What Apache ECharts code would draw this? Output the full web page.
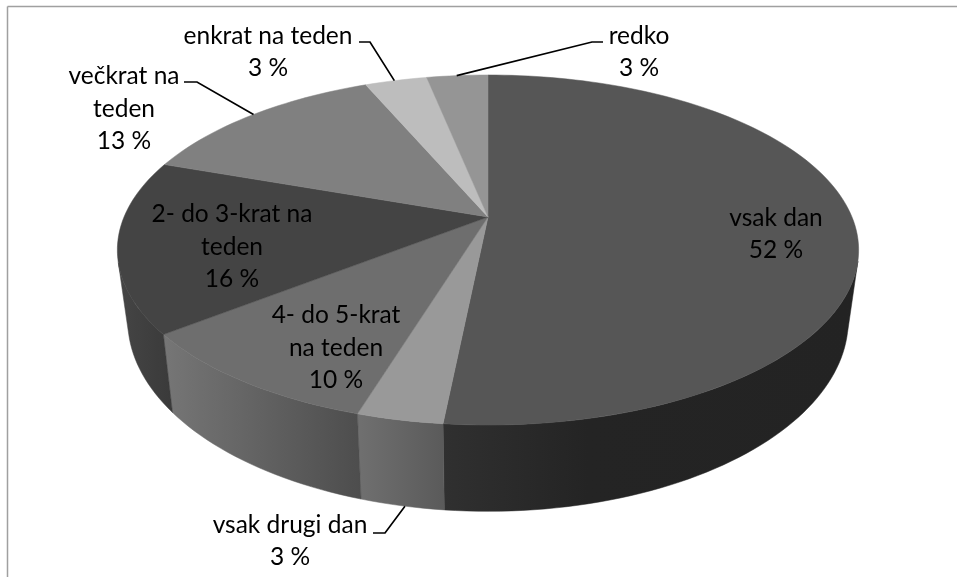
<!DOCTYPE html>
<html>
<head>
<meta charset="utf-8">
<style>html,body{margin:0;padding:0;background:#fff}#chart{width:957px;height:577px}</style>
<script src="https://cdn.jsdelivr.net/npm/echarts@6/dist/echarts.min.js"></script>
</head>
<body>
<div id="chart"></div>
<script>
// ---- data (clockwise from 12 o'clock) ----
const categories = ['vsak dan', 'vsak drugi dan', '4- do 5-krat\nna teden', '2- do 3-krat na\nteden', 'večkrat na\nteden', 'enkrat na teden', 'redko'];
const shares = [51.6, 3.15, 9.7, 15.9, 13.2, 3.25, 3.2];
const percentLabels = ['52 %', '3 %', '10 %', '16 %', '13 %', '3 %', '3 %'];

// ---- styles and layout ----
const topColors = ['#565656', '#999999', '#6e6e6e', '#444444', '#808080', '#bdbdbd', '#959595'];
const wallStops = [
  [[0, '#303030'], [0.35, '#242424'], [1, '#232323']],
  [[0, '#707070'], [1, '#5a5a5a']],
  [[0, '#767676'], [1, '#4d4d4d']],
  [[0, '#454545'], [1, '#3a3a3a']],
  [[0, '#555555'], [1, '#555555']],
  [[0, '#777777'], [1, '#777777']],
  [[0, '#666666'], [1, '#666666']]
];
const labelCenters = [[776, 234], [290, 541], [336, 348], [232, 247], [124, 109], [268, 52], [639, 52]];
// leader: elbow points from the label towards the slice; the far end is computed from the slice
const leaders = [null, [[373, 533], [385, 533]], null, null, [[184, 82], [197, 82]], [[359, 42], [370, 42]], [[603, 42], [592, 42]]];
const leaderAngleShift = [0, -0.4, 0, 0, 0.3, -0.3, -0.1];

// pie projection (perspective view of a circle)
const CX = 488, CY = 217, A = 364, B = 168.8, C = -0.1886;
function topPt(deg) {
  const r = deg * Math.PI / 180, u = Math.sin(r), v = -Math.cos(r), w = 1 + C * v;
  return [CX + A * u / w, CY + B * v / w];
}
function basePt(deg) {
  const p = topPt(deg);
  return [CX + (p[0] - CX) * 0.972, p[1] + 78 + 0.092 * (p[1] - 335)];
}
function arc(fn, a, b) {
  const n = Math.max(2, Math.ceil(Math.abs(b - a) / 1.5)), pts = [];
  for (let i = 0; i <= n; i++) pts.push(fn(a + (b - a) * i / n));
  return pts;
}
// the angle where the wall's vertical edge is tangent to the rim: the visible wall ends there
function silhouetteAngle(from, to) {
  const cross = d => {
    const p = topPt(d), q = topPt(d + 0.5), b = basePt(d);
    return (q[0] - p[0]) * (b[1] - p[1]) - (q[1] - p[1]) * (b[0] - p[0]);
  };
  let lo = from, hi = to;
  const s = Math.sign(cross(lo));
  for (let k = 0; k < 30; k++) {
    const m = (lo + hi) / 2;
    if (Math.sign(cross(m)) === s) lo = m; else hi = m;
  }
  return lo;
}
const wallFrom = silhouetteAngle(60, 130), wallTo = silhouetteAngle(230, 300);

const total = shares.reduce((s, v) => s + v, 0);

function renderItem(params, api) {
  const i = params.dataIndex;
  let before = 0;
  for (let k = 0; k < i; k++) before += shares[k];
  const a0 = before / total * 360, a1 = a0 + api.value(0) / total * 360;
  const children = [];

  // side wall
  const wa = Math.max(a0, wallFrom), wb = Math.min(a1, wallTo);
  if (wb > wa) {
    const fill = new echarts.graphic.LinearGradient(0, 0, 1, 0,
      wallStops[i].map(s => ({ offset: s[0], color: s[1] })));
    children.push({
      type: 'polygon', z2: 1,
      shape: { points: arc(topPt, wa, wb).concat(arc(basePt, wb, wa)) },
      style: { fill: fill, stroke: fill, lineWidth: 0.5 }
    });
  }
  // top face
  children.push({
    type: 'polygon', z2: 2,
    shape: { points: [[CX, CY]].concat(arc(topPt, a0, a1)) },
    style: { fill: topColors[i], stroke: topColors[i], lineWidth: 0.5 }
  });
  // leader line
  if (leaders[i]) {
    const mid = (a0 + a1) / 2 + leaderAngleShift[i];
    const end = (mid > wallFrom && mid < wallTo) ? basePt(mid) : topPt(mid);
    children.push({
      type: 'polyline', z2: 3,
      shape: { points: leaders[i].concat([end]) },
      style: { fill: null, stroke: '#000', lineWidth: 1.7 }
    });
  }
  // label
  children.push({
    type: 'text', z2: 4,
    style: {
      x: labelCenters[i][0], y: labelCenters[i][1],
      text: categories[i] + '\n' + percentLabels[i],
      fill: '#000', align: 'center', verticalAlign: 'middle',
      font: '24.5px Lato', lineHeight: 32.5
    }
  });
  return { type: 'group', children: children };
}

const chart = echarts.init(document.getElementById('chart'), null, { renderer: 'canvas' });
chart.setOption({
  animation: false,
  backgroundColor: '#ffffff',
  graphic: [
    { type: 'line', shape: { x1: 7.5, y1: 6.5, x2: 957, y2: 6.5 }, style: { stroke: '#a0a0a0', lineWidth: 1.5 } },
    { type: 'line', shape: { x1: 7.5, y1: 6.5, x2: 7.5, y2: 577 }, style: { stroke: '#a0a0a0', lineWidth: 1.5 } }
  ],
  series: [{
    type: 'custom',
    coordinateSystem: 'none',
    renderItem: renderItem,
    data: shares.map(v => [v])
  }]
});
</script>
</body>
</html>
